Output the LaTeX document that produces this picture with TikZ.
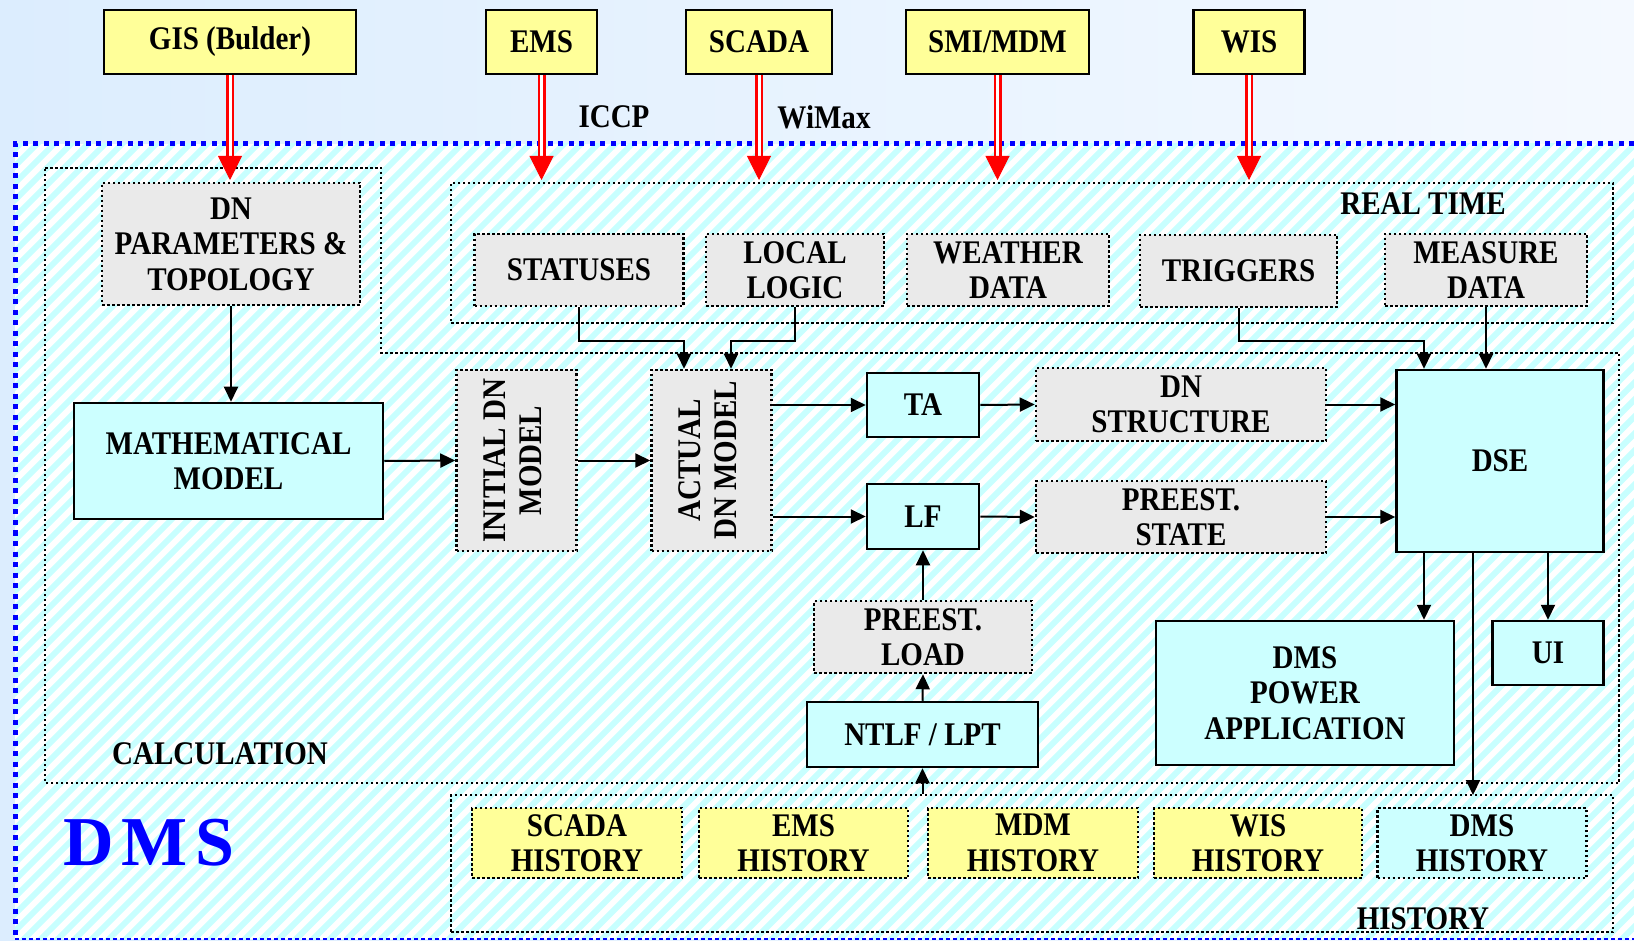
\documentclass[tikz,border=0pt]{standalone}
\usepackage{fontspec}
\setmainfont{Liberation Serif}[FakeStretch=0.88]
\newfontfamily\dmsfont{Liberation Serif}
\usetikzlibrary{arrows.meta}
\definecolor{srcyellow}{RGB}{255,255,153}
\definecolor{calccyan}{RGB}{204,255,255}
\definecolor{datagray}{RGB}{234,234,234}
\definecolor{stripecyan}{RGB}{200,255,255}
\definecolor{skyleft}{RGB}{220,237,254}
\definecolor{skyright}{RGB}{244,249,255}
\definecolor{dmsblue}{RGB}{0,0,255}

\begin{document}
\begin{tikzpicture}[
  x=1pt, y=-1pt,
  lbl/.style={font=\fontsize{33}{35.5}\selectfont\bfseries, align=center, inner sep=0pt},
  srcbox/.style={lbl, draw=black, line width=2.5pt, fill=srcyellow},
  calcbox/.style={lbl, draw=black, line width=2.5pt, fill=calccyan},
  databox/.style={lbl, draw=black, line width=2.5pt, dash pattern=on 2.5pt off 2.5pt, fill=datagray},
  histbox/.style={databox, fill=srcyellow},
  zone/.style={draw=black, line width=2.5pt, dash pattern=on 2.5pt off 2.5pt},
  arr/.style={line width=2pt, -{Triangle[length=15pt, width=14pt]}},
  pipe/.style={draw=red, double=white, double distance=3pt, line width=2.5pt, shorten >=22pt},
  pipetip/.style={white, line width=1pt, -{Triangle[red, length=24pt, width=24pt]}},
]
\useasboundingbox (0,0) rectangle (1634,941);

% ---------- background ----------
\fill[left color=skyleft, right color=skyright] (0,0) rectangle (1634,941);
\fill[white] (15,144) rectangle (1634,939);
\begin{scope}
  \clip (15,144) rectangle (1634,939);
  \foreach \s in {-820,-803,...,1650}
    \draw[stripecyan, line width=6pt] (\s,950) -- ++(820,-820);
\end{scope}
\draw[dmsblue, line width=5pt, dash pattern=on 5pt off 5.5pt] (1634,144) -- (15,144) -- (15,939);
\draw[dmsblue, line width=1.5pt, dash pattern=on 4pt off 3pt] (15,939) -- (1634,939);

% ---------- zones ----------
\draw[zone] (45,168) -- (381,168) -- (381,353) -- (1619,353) -- (1619,783) -- (45,783) -- cycle;
\node[zone, minimum width=1162pt, minimum height=140pt] (realtime) at (1032,253) {};
\node[zone, minimum width=1162pt, minimum height=137pt] (history) at (1032,863.5) {};

\node[lbl] (rtlabel) at (1423,204) {REAL TIME};
\node[lbl] (calclabel) at (220,754) {CALCULATION};
\node[lbl] (histlabel) at (1423,919) {HISTORY};
\node[lbl] (iccp) at (614,117) {ICCP};
\node[lbl] (wimax) at (824,117) {WiMax};
\node[font=\dmsfont\bfseries\fontsize{70}{70}\selectfont, text=dmsblue, inner sep=0pt]
  (dmslabel) at (149,843) {D\hspace{8pt}M\hspace{8pt}S};

% ---------- sources ----------
\node[srcbox, minimum width=252pt, minimum height=64pt] (gis) at (230,42) {GIS (Bulder)};
\node[srcbox, minimum width=111pt, minimum height=64pt] (ems) at (541.5,42) {EMS};
\node[srcbox, minimum width=146pt, minimum height=64pt] (scada) at (759,42) {SCADA};
\node[srcbox, minimum width=183pt, minimum height=64pt] (smi) at (997.5,42) {SMI/MDM};
\node[srcbox, minimum width=111pt, minimum height=64pt] (wis) at (1249,42) {WIS};

\coordinate (feed) at (0,180);
\foreach \src in {gis,ems,scada,smi,wis} {
  \draw[pipe] (\src.south) -- (\src.south |- feed);
  \draw[pipetip] (\src.south) -- (\src.south |- feed);
}

% ---------- real time ----------
\node[databox, minimum width=209pt, minimum height=72pt] (statuses) at (579,270) {STATUSES};
\node[databox, minimum width=178pt, minimum height=72pt] (locallogic) at (795,270) {LOCAL\\LOGIC};
\node[databox, minimum width=202pt, minimum height=72pt] (weather) at (1008,270) {WEATHER\\DATA};
\node[databox, minimum width=197pt, minimum height=72pt] (triggers) at (1238.5,271) {TRIGGERS};
\node[databox, minimum width=202pt, minimum height=72pt] (measure) at (1486,270) {MEASURE\\DATA};

% ---------- calculation ----------
\node[databox, minimum width=258pt, minimum height=122pt] (dnparams) at (231,244) {DN\\PARAMETERS \&\\TOPOLOGY};
\node[calcbox, minimum width=309pt, minimum height=116pt] (math) at (228.5,461) {MATHEMATICAL\\MODEL};
\node[databox, minimum width=120pt, minimum height=181pt] (initial) at (516.5,460.5)
  {\rotatebox{90}{\begin{tabular}{@{}c@{}}INITIAL DN\\MODEL\end{tabular}}};
\node[databox, minimum width=120pt, minimum height=181pt] (actual) at (711.5,460.5)
  {\rotatebox{90}{\begin{tabular}{@{}c@{}}ACTUAL\\DN MODEL\end{tabular}}};
\node[calcbox, minimum width=112pt, minimum height=64pt] (ta) at (923,405) {TA};
\node[calcbox, minimum width=112pt, minimum height=65pt] (lf) at (923,516.5) {LF};
\node[databox, minimum width=290pt, minimum height=73pt] (dnstruct) at (1181,404.5) {DN\\STRUCTURE};
\node[databox, minimum width=290pt, minimum height=72pt] (prestate) at (1181,517) {PREEST.\\STATE};
\node[calcbox, minimum width=207pt, minimum height=182pt] (dse) at (1500,461) {DSE};
\node[databox, minimum width=218pt, minimum height=72pt] (preload) at (923,637) {PREEST.\\LOAD};
\node[calcbox, minimum width=231pt, minimum height=65pt] (ntlf) at (922.5,734.5) {NTLF / LPT};
\node[calcbox, minimum width=298pt, minimum height=144pt] (dmspower) at (1305,693) {DMS\\POWER\\APPLICATION};
\node[calcbox, minimum width=111pt, minimum height=64pt] (ui) at (1548,653) {UI};

% ---------- history ----------
\node[histbox, minimum width=210pt, minimum height=70pt] (scadahist) at (577,843) {SCADA\\HISTORY};
\node[histbox, minimum width=209pt, minimum height=70pt] (emshist) at (803.5,843) {EMS\\HISTORY};
\node[histbox, minimum width=210pt, minimum height=70pt] (mdmhist) at (1033,843) {MDM\\HISTORY};
\node[histbox, minimum width=208pt, minimum height=70pt] (wishist) at (1258,843) {WIS\\HISTORY};
\node[databox, fill=calccyan, minimum width=209pt, minimum height=70pt] (dmshist) at (1482,843) {DMS\\HISTORY};

% ---------- connectors ----------
\coordinate (sbend) at (684,341);
\coordinate (lbend) at (731,341);
\coordinate (tbend) at (1424,341);
\coordinate (hdrop) at (1473,795);

\draw[arr] (dnparams.south) -- (dnparams.south |- math.north);
\draw[arr] (math.east) -- (initial.west);
\draw[arr] (initial.east) -- (actual.west);
\draw[arr] (statuses.south) |- (sbend) -- (sbend |- actual.north);
\draw[arr] (locallogic.south) |- (lbend) -- (lbend |- actual.north);
\draw[arr] (actual.east |- ta.west) -- (ta.west);
\draw[arr] (actual.east |- lf.west) -- (lf.west);
\draw[arr] (ta.east) -- (dnstruct.west);
\draw[arr] (lf.east) -- (prestate.west);
\draw[arr] (dnstruct.east) -- (dnstruct.east -| dse.west);
\draw[arr] (prestate.east) -- (prestate.east -| dse.west);
\draw[arr] (triggers.south) |- (tbend) -- (tbend |- dse.north);
\draw[arr] (measure.south) -- (measure.south |- dse.north);
\draw[arr] (tbend |- dse.south) -- (tbend |- dmspower.north);
\draw[arr] (dse.south -| ui.north) -- (ui.north);
\draw[arr] (hdrop |- dse.south) -- (hdrop);
\draw[arr] (preload.north) -- (lf.south);
\draw[arr] (ntlf.north) -- (preload.south);
\draw[arr] (ntlf.south |- history.north) -- (ntlf.south);

\end{tikzpicture}
\end{document}
